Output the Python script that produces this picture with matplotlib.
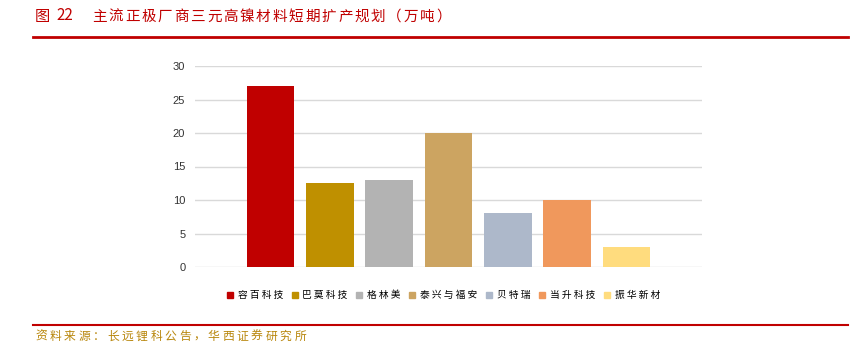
import matplotlib
matplotlib.use("Agg")
import matplotlib.pyplot as plt
from matplotlib.lines import Line2D

plt.rcParams["font.family"] = ["Noto Sans CJK SC", "DejaVu Sans"]

companies = ["容百科技", "巴莫科技", "格林美", "泰兴与福安", "贝特瑞", "当升科技", "振华新材"]
capacity = [27, 12.5, 13, 20, 8, 10, 3]
colors = ["#C00000", "#BF9000", "#B3B3B3", "#CCA461", "#ADB8CA", "#F0985C", "#FFDC7E"]

RED = "#C00000"
W, H = 862, 343


def spaced_text(fig, text, x0, y, step, **kw):
    # draw CJK text one glyph at a time with a fixed advance (pixels), y = baseline
    for i, ch in enumerate(text):
        fig.text((x0 + i * step) / W, 1 - y / H, ch, va="baseline", **kw)


fig = plt.figure(figsize=(W / 100, H / 100), dpi=100)
ax = fig.add_axes([195 / W, 1 - 267 / H, 507 / W, 201 / H])

for i, (name, val, col) in enumerate(zip(companies, capacity, colors)):
    ax.bar(i, val, width=0.8, color=col, label=name, zorder=3)

ax.set_xlim(-1.27, 7.27)
ax.set_ylim(0, 30)
ax.set_yticks(range(0, 31, 5))
ax.tick_params(axis="y", length=0, labelsize=8, colors="#333333", pad=7)
ax.set_xticks([])
ax.yaxis.grid(True, color="#D9D9D9", linewidth=1, zorder=0)
for s in ax.spines.values():
    s.set_visible(False)
for lab in ax.get_yticklabels():
    lab.set_family("Liberation Sans")

handles = [Line2D([], [], marker="s", linestyle="", markersize=4.5,
                  markerfacecolor=c, markeredgecolor=c) for c in colors]
fig.legend(handles, [" ".join(c) for c in companies], loc="center",
           bbox_to_anchor=(443 / W, 1 - 295 / H), ncol=7, frameon=False,
           fontsize=7, handletextpad=0.4, columnspacing=0.8, handlelength=0.8)

fig.text(35 / W, 1 - 20.5 / H, "图", color=RED, fontsize=11, va="baseline")
fig.text(56 / W, 1 - 20.5 / H, "22", color=RED, fontsize=11, va="baseline")
spaced_text(fig, "主流正极厂商三元高镍材料短期扩产规划（万吨）", 92, 20.5, 16.4,
            color=RED, fontsize=10.5)
fig.add_artist(Line2D([33 / W, 848 / W], [1 - 37 / H] * 2, color=RED, linewidth=2))
fig.add_artist(Line2D([33 / W, 848 / W], [1 - 325 / H] * 2, color=RED, linewidth=1.5))
spaced_text(fig, "资料来源：长远锂科公告，华西证券研究所", 35, 340, 14.4,
            color="#B8860B", fontsize=8.5)

fig.savefig("out.png", dpi=100)
